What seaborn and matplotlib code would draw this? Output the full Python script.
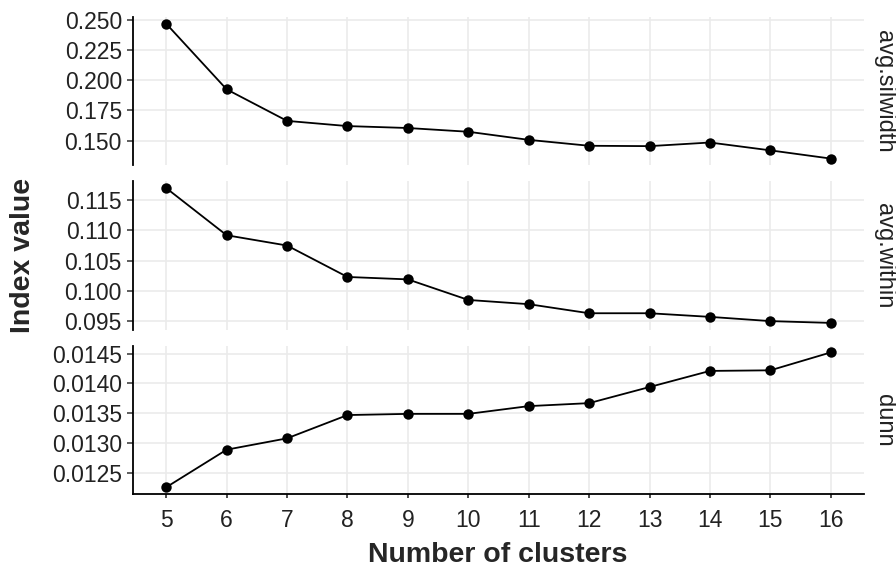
import numpy as np
import pandas as pd
import matplotlib
matplotlib.use("Agg")
import matplotlib.pyplot as plt
from matplotlib.ticker import MultipleLocator, FormatStrFormatter
import seaborn as sns

clusters = list(range(5, 17))
avg_silwidth = [0.2467, 0.1924, 0.1663, 0.1620, 0.1604, 0.1573, 0.1506, 0.1457, 0.1454, 0.1484, 0.1419, 0.1351]
avg_within = [0.1170, 0.1092, 0.1075, 0.1023, 0.1019, 0.0985, 0.0978, 0.0963, 0.0963, 0.0957, 0.0950, 0.0947]
dunn = [0.01226, 0.01289, 0.01308, 0.01347, 0.01349, 0.01349, 0.01362, 0.01367, 0.01394, 0.01421, 0.01422, 0.01452]
index_names = ["avg.silwidth", "avg.within", "dunn"]

df = pd.DataFrame({
    "k": clusters * 3,
    "value": avg_silwidth + avg_within + dunn,
    "index": np.repeat(index_names, len(clusters)),
})

sns.set_theme(style="white")
plt.rcParams["font.family"] = ["Liberation Sans", "DejaVu Sans"]

g = sns.relplot(
    data=df, x="k", y="value", row="index", kind="line",
    marker="o", color="black", linewidth=1.3, markersize=7.5,
    markeredgewidth=0, row_order=index_names,
    facet_kws={"sharey": False, "sharex": True},
)
g.figure.set_size_inches(8.96, 5.69)
g.figure.subplots_adjust(left=133 / 896, right=864 / 896, top=1 - 17 / 569,
                         bottom=1 - 494 / 569, hspace=0.108)
g.set_titles("")
g.set_axis_labels("", "")

# tick spacing / label format per panel
steps = [0.025, 0.005, 0.0005]
fmts = ["%.3f", "%.3f", "%.4f"]

for i, (ax, name) in enumerate(zip(g.axes.flat, index_names)):
    ax.set_xlim(4.45, 16.55)
    ax.set_xticks(clusters)
    ax.yaxis.set_major_locator(MultipleLocator(steps[i]))
    ax.yaxis.set_major_formatter(FormatStrFormatter(fmts[i]))
    ax.grid(True, color="#ebebeb", linewidth=1.2)
    ax.set_axisbelow(True)
    for s in ["top", "right"]:
        ax.spines[s].set_visible(False)
    ax.spines["left"].set_color("black")
    ax.spines["left"].set_linewidth(1.3)
    ax.spines["bottom"].set_visible(i == 2)
    ax.spines["bottom"].set_color("black")
    ax.spines["bottom"].set_linewidth(1.3)
    ax.tick_params(axis="y", left=True, length=4, width=1.1, color="#333333",
                   labelsize=16.5, labelcolor="#222222", pad=4)
    ax.tick_params(axis="x", bottom=(i == 2), length=3, color="#333333",
                   labelsize=16.5, labelcolor="#222222", pad=8)
    ax.text(1.012, 0.5, name, transform=ax.transAxes, rotation=270,
            va="center", ha="left", fontsize=17, color="#222222")

g.figure.text(0.026, 1 - 255.5 / 569, "Index value", rotation=90,
              ha="center", va="center", fontsize=20.5, fontweight="bold")
g.figure.text(498 / 896, 1 - 555 / 569, "Number of clusters",
              ha="center", va="center", fontsize=20.5, fontweight="bold")

g.figure.savefig("out.png", dpi=100)
